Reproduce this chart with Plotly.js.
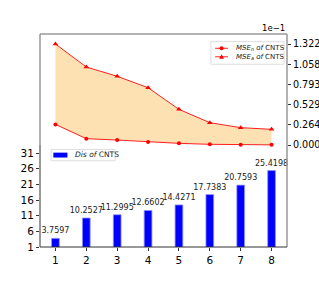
<!DOCTYPE html>
<html><head><meta charset="utf-8">
<script src="https://cdn.plot.ly/plotly-3.0.1.min.js"></script>
<style>html,body{margin:0;padding:0;background:#fff;}#chart{width:319px;height:283px;}</style>
</head><body><div id="chart"></div>
<script>
var categories = [1, 2, 3, 4, 5, 6, 7, 8];
var disValues = [3.7597, 10.2527, 11.2995, 12.6602, 14.4271, 17.7383, 20.7593, 25.4198];
var mseN = [0.27, 0.083, 0.065, 0.039, 0.022, 0.009, 0.003, 0.002];
var mseA = [1.322, 1.021, 0.899, 0.750, 0.467, 0.292, 0.227, 0.205];
var leftTicks = [1, 6, 11, 16, 21, 26, 31];
var rightTicks = [0.0, 0.2644, 0.5288, 0.7932, 1.0576, 1.322];
var rightTickText = ['0.000', '0.264', '0.529', '0.793', '1.058', '1.322'];
var labels = ['<i>MSE<sub>n</sub> of</i> CNTS', '<i>MSE<sub>a</sub> of</i> CNTS', '<i>Dis of</i> CNTS'];

var font = 'DejaVu Sans, sans-serif';
var traces = [
  {x: categories, y: disValues, type: 'bar', name: labels[2], yaxis: 'y', showlegend: false,
   width: 0.25, marker: {color: '#0000ff', line: {color: '#8f8fff', width: 0.8}},
   text: disValues.map(function(v){return v.toFixed(4);}), textposition: 'outside', constraintext: 'none',
   textfont: {family: font, size: 8, color: '#222'}, cliponaxis: false},
  {x: categories, y: mseN, type: 'scatter', mode: 'lines+markers', name: labels[0], yaxis: 'y2', showlegend: false,
   line: {color: '#ff2020', width: 1}, marker: {color: '#ff0000', size: 4, symbol: 'circle'}},
  {x: categories, y: mseA, type: 'scatter', mode: 'lines+markers', name: labels[1], yaxis: 'y2', showlegend: false,
   fill: 'tonexty', fillcolor: '#fde1b3',
   line: {color: '#ff2020', width: 1}, marker: {color: '#ff0000', size: 5, symbol: 'triangle-up'}}
];

// legend geometry (paper units)
var Lx0 = 0.692, Lx1 = 0.988, Ly0 = 0.858, Ly1 = 0.964;
var r1 = 0.933, r2 = 0.893, lx0 = 0.709, lx1 = 0.761, lm = 0.735, ltx = 0.785;
var dx = 2 / 247, dy = 2 / 213;
var B = {x0: 0.045, x1: 0.304, y0: 0.405, y1: 0.458, sx0: 0.054, sx1: 0.111, sy0: 0.42, sy1: 0.443, tx: 0.135, ty: 0.432};

var shapes = [
  {type: 'line', xref: 'paper', yref: 'paper', x0: 0, x1: 1, y0: 1, y1: 1, line: {color: '#999', width: 1.5}},
  {type: 'line', xref: 'paper', yref: 'paper', x0: 1, x1: 1, y0: 0, y1: 1, line: {color: '#999', width: 1.5}},
  {type: 'line', xref: 'paper', yref: 'paper', x0: 0, x1: 0, y0: 0.48, y1: 1, line: {color: '#999', width: 1.5}},
  {type: 'line', xref: 'paper', yref: 'paper', x0: 0, x1: 0, y0: 0, y1: 0.48, line: {color: '#333', width: 1}},
  {type: 'line', xref: 'paper', yref: 'paper', x0: 0, x1: 1, y0: 0, y1: 0, line: {color: '#333', width: 1}},
  // top legend
  {type: 'rect', xref: 'paper', yref: 'paper', x0: Lx0, x1: Lx1, y0: Ly0, y1: Ly1, fillcolor: 'rgba(255,255,255,0.85)', line: {color: '#ddd', width: 1}},
  {type: 'line', xref: 'paper', yref: 'paper', x0: lx0, x1: lx1, y0: r1, y1: r1, line: {color: '#ff2020', width: 1}},
  {type: 'circle', xref: 'paper', yref: 'paper', x0: lm - dx, x1: lm + dx, y0: r1 - dy, y1: r1 + dy, fillcolor: '#ff0000', line: {width: 0}},
  {type: 'line', xref: 'paper', yref: 'paper', x0: lx0, x1: lx1, y0: r2, y1: r2, line: {color: '#ff2020', width: 1}},
  {type: 'path', xref: 'paper', yref: 'paper', path: 'M ' + (lm - dx * 1.2) + ' ' + (r2 - dy) + ' L ' + (lm + dx * 1.2) + ' ' + (r2 - dy) + ' L ' + lm + ' ' + (r2 + dy * 1.3) + ' Z', fillcolor: '#ff0000', line: {width: 0}},
  // bottom legend
  {type: 'rect', xref: 'paper', yref: 'paper', x0: B.x0, x1: B.x1, y0: B.y0, y1: B.y1, fillcolor: 'rgba(255,255,255,0.85)', line: {color: '#ddd', width: 1}},
  {type: 'rect', xref: 'paper', yref: 'paper', x0: B.sx0, x1: B.sx1, y0: B.sy0, y1: B.sy1, fillcolor: '#0000ff', line: {width: 0}}
];

var layout = {
  width: 319, height: 283,
  margin: {l: 40, r: 32, t: 34, b: 36},
  paper_bgcolor: '#fff', plot_bgcolor: 'rgba(0,0,0,0)',
  font: {family: font, size: 10, color: '#000'},
  showlegend: false,
  bargap: 0,
  xaxis: {range: [0.5, 8.5], tickvals: categories, ticks: 'outside', ticklen: 3, tickcolor: '#333',
          showgrid: false, zeroline: false, showline: false, tickfont: {size: 10.5}},
  yaxis: {range: [1, 69], tickvals: leftTicks, ticks: 'outside', ticklen: 3, tickcolor: '#333',
          showgrid: false, zeroline: false, showline: false, tickfont: {size: 10.5}},
  yaxis2: {overlaying: 'y', side: 'right', range: [-1.335, 1.453], tickvals: rightTicks, ticktext: rightTickText,
           ticks: 'outside', ticklen: 3, tickcolor: '#333', showgrid: false, zeroline: false, showline: false,
           tickfont: {size: 9.6}},
  shapes: shapes,
  annotations: [
    {text: '1e\u22121', xref: 'paper', yref: 'paper', x: 1, y: 1, xanchor: 'right', yanchor: 'bottom', yshift: -1,
     showarrow: false, font: {size: 8.5, family: font}},
    {text: labels[0], xref: 'paper', yref: 'paper', x: ltx, y: r1, xanchor: 'left', yanchor: 'middle',
     showarrow: false, font: {size: 7, family: font, color: '#222'}},
    {text: labels[1], xref: 'paper', yref: 'paper', x: ltx, y: r2, xanchor: 'left', yanchor: 'middle',
     showarrow: false, font: {size: 7, family: font, color: '#222'}},
    {text: labels[2], xref: 'paper', yref: 'paper', x: B.tx, y: B.ty, xanchor: 'left', yanchor: 'middle',
     showarrow: false, font: {size: 7.5, family: font, color: '#222'}}
  ]
};
Plotly.newPlot('chart', traces, layout, {displayModeBar: false, staticPlot: true});
</script></body></html>
